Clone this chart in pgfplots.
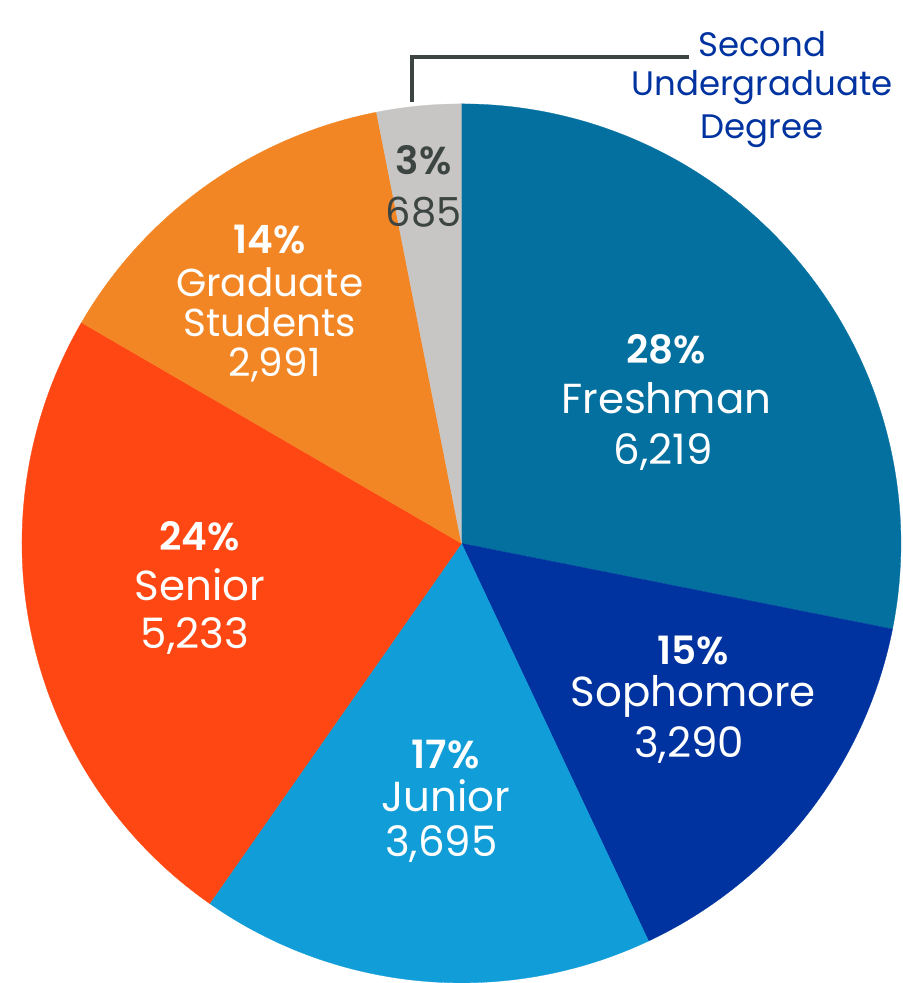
\documentclass[border=0pt]{standalone}
\usepackage{pgfplots}
\pgfplotsset{compat=1.18}
\usepackage{fontspec}
\setmainfont{Poppins}[BoldFont={Poppins SemiBold}]
\definecolor{cFresh}{HTML}{03709F}
\definecolor{cSoph}{HTML}{0033A0}
\definecolor{cJun}{HTML}{119DD8}
\definecolor{cSen}{HTML}{FF4713}
\definecolor{cGrad}{HTML}{F38624}
\definecolor{cSec}{HTML}{C8C6C4}
\definecolor{cDark}{HTML}{3D4543}
\definecolor{cLabel}{HTML}{0033A0}
% data (students)
\def\vFresh{6219}
\def\vSoph{3290}
\def\vJun{3695}
\def\vSen{5233}
\def\vGrad{2991}
\def\vSec{685}
\pgfmathsetmacro{\tot}{\vFresh/1000+\vSoph/1000+\vJun/1000+\vSen/1000+\vGrad/1000+\vSec/1000}
\pgfmathsetmacro{\aA}{90}
\pgfmathsetmacro{\aB}{\aA-360*(\vFresh/1000)/\tot}
\pgfmathsetmacro{\aC}{\aB-360*(\vSoph/1000)/\tot}
\pgfmathsetmacro{\aD}{\aC-360*(\vJun/1000)/\tot}
\pgfmathsetmacro{\aE}{\aD-360*(\vSen/1000)/\tot}
\pgfmathsetmacro{\aF}{\aE-360*(\vGrad/1000)/\tot}
\pgfmathsetmacro{\aG}{\aF-360*(\vSec/1000)/\tot}
\newcommand{\R}{440}
\newcommand{\pc}[1]{{\fontsize{39}{42}\selectfont\bfseries #1}}
\begin{document}
\begin{tikzpicture}
\begin{axis}[x=1pt,y=1pt,xmin=-462,xmax=442,ymin=-440,ymax=544,
  hide axis, clip=false, scale only axis]
\addplot[draw=none] coordinates {(-462,-440) (442,544)};
\addplot[fill=cFresh, draw=cFresh, line width=0.3pt, domain=\aB:\aA, samples=120, variable=\t] ({\R*cos(\t)},{\R*sin(\t)}) -- (0,0) -- cycle;
\addplot[fill=cSoph, draw=cSoph, line width=0.3pt, domain=\aC:\aB, samples=80, variable=\t] ({\R*cos(\t)},{\R*sin(\t)}) -- (0,0) -- cycle;
\addplot[fill=cJun, draw=cJun, line width=0.3pt, domain=\aD:\aC, samples=80, variable=\t] ({\R*cos(\t)},{\R*sin(\t)}) -- (0,0) -- cycle;
\addplot[fill=cSen, draw=cSen, line width=0.3pt, domain=\aE:\aD, samples=100, variable=\t] ({\R*cos(\t)},{\R*sin(\t)}) -- (0,0) -- cycle;
\addplot[fill=cGrad, draw=cGrad, line width=0.3pt, domain=\aF:\aE, samples=60, variable=\t] ({\R*cos(\t)},{\R*sin(\t)}) -- (0,0) -- cycle;
\addplot[fill=cSec, draw=cSec, line width=0.3pt, domain=\aG:\aF, samples=20, variable=\t] ({\R*cos(\t)},{\R*sin(\t)}) -- (0,0) -- cycle;
% leader line
\addplot[draw=cDark, line width=4pt, mark=none] coordinates {(-50,442) (-50,487) (228,487)};
% labels
\begin{scope}[every node/.style={font=\fontsize{42}{46}\selectfont, inner sep=0pt, anchor=center}]
\node[text=cDark] at (-38,384) {\pc{3\%}};
\node[text=cDark, font=\fontsize{40}{44}\selectfont] at (-38,332) {685};
\node[text=cLabel, font=\fontsize{34}{38}\selectfont] at (301,500) {Second};
\node[text=cLabel, font=\fontsize{34}{38}\selectfont] at (301,456) {Undergraduate};
\node[text=cLabel, font=\fontsize{34}{38}\selectfont] at (301,413) {Degree};
\node[text=white] at (-192,304) {\pc{14\%}};
\node[text=white, font=\fontsize{39}{42}\selectfont] at (-192,261) {Graduate};
\node[text=white, font=\fontsize{39}{42}\selectfont] at (-192,221) {Students};
\node[text=white, font=\fontsize{39}{42}\selectfont] at (-187,179) {2,991};
\node[text=white] at (205,194) {\pc{28\%}};
\node[text=white] at (205,145) {Freshman};
\node[text=white] at (202,91) {6,219};
\node[text=white] at (-262,7) {\pc{24\%}};
\node[text=white] at (-262,-41) {Senior};
\node[text=white] at (-267,-93) {5,233};
\node[text=white] at (232,-107) {\pc{15\%}};
\node[text=white] at (232,-153) {Sophomore};
\node[text=white] at (228,-202) {3,290};
\node[text=white] at (-16,-211) {\pc{17\%}};
\node[text=white] at (-16,-253) {Junior};
\node[text=white] at (-20,-301) {3,695};
\end{scope}
\end{axis}
\end{tikzpicture}
\end{document}
